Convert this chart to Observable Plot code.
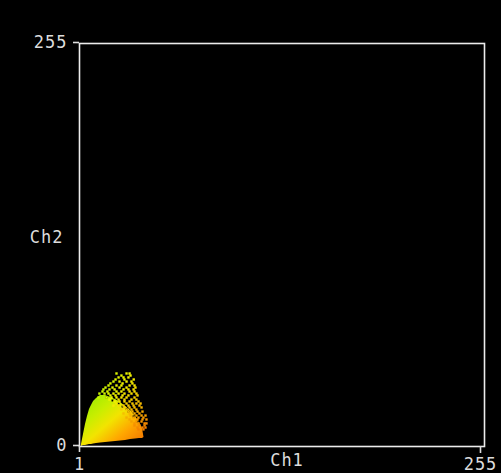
<!DOCTYPE html>
<html>
<head>
<meta charset="utf-8">
<script src="https://cdn.jsdelivr.net/npm/d3@7"></script>
<script src="https://cdn.jsdelivr.net/npm/@observablehq/plot@0.6"></script>
<style>
  html, body { margin: 0; padding: 0; background: #000; }
  svg { display: block; }
</style>
</head>
<body>
<div id="chart"></div>
<script>
// Axis ticks
const xTicks = [1, 255];
const yTicks = [0, 255];

// Dense core of the scatter: Ch1 positions with lower/upper Ch2 edges
const coreCh1   = [2.25, 3.5, 4.76, 6.0, 7.27, 8.5, 9.8, 11.66, 14.17, 17.3, 20.44, 23.6, 26.7, 29.85, 33.0, 36.1, 38.6, 40.5, 41.45];
const coreUpper = [1.27, 7.6, 13.9, 19.0, 23.4, 25.9, 28.5, 30.4, 32.3, 32.3, 31.0, 29.7, 27.8, 25.3, 22.8, 19.0, 15.2, 11.4, 5.7];
const coreLower = [0.0, 0.63, 0.63, 0.95, 1.27, 1.27, 1.58, 1.9, 2.2, 2.5, 2.85, 3.16, 3.5, 3.8, 4.4, 4.75, 5.1, 5.1, 5.7];

// Speckled outlying pixels, row by row: Ch2 level of each row and the Ch1 values in it
const speckleRowCh2 = [46.2, 44.9, 43.7, 42.4, 41.1, 39.9, 38.6, 37.3, 36.1, 34.8, 33.5, 32.3, 31.0, 29.7, 28.5,
                       27.2, 25.9, 24.7, 23.4, 22.1, 20.9, 19.6, 18.3, 17.1, 15.8, 14.6, 13.3, 12.0, 10.8];
const speckleRowCh1 = [
  [24.2, 30.5, 32.4],
  [27.3, 33.0],
  [25.5, 28.6, 31.7],
  [23.6, 29.2, 35.0],
  [22.3, 26.1, 30.5, 33.6],
  [20.4, 28.0, 34.2],
  [19.2, 24.2, 27.3, 32.4, 35.5],
  [17.3, 21.7, 26.1, 30.5, 36.1],
  [16.0, 19.8, 23.0, 28.6, 31.7, 34.9],
  [15.4, 18.5, 24.2, 27.3, 32.4, 35.5],
  [13.5, 16.7, 19.2, 22.3, 25.5, 29.2, 33.6, 36.7],
  [20.4, 23.6, 28.0, 31.7, 37.4],
  [12.9, 17.9, 21.1, 24.2, 27.3, 30.5, 35.5],
  [19.8, 25.5, 29.2, 33.6, 36.7],
  [23.0, 26.1, 29.2, 32.4, 38.0],
  [24.2, 30.5, 34.2, 36.7, 39.3],
  [22.3, 25.5, 28.6, 31.7, 34.9, 38.6],
  [29.2, 32.4, 35.5, 39.9],
  [27.3, 30.5, 33.6, 36.7],
  [31.7, 34.2, 37.4, 40.5],
  [28.6, 32.4, 35.5, 38.6],
  [33.0, 36.7, 39.9, 42.4],
  [30.5, 34.9, 38.0, 41.1],
  [32.4, 37.4, 40.5, 43.0],
  [33.6, 36.7, 39.9],
  [35.5, 38.0, 41.8, 43.0],
  [35.5, 38.6, 41.8],
  [37.4, 40.5, 42.4],
  [38.0, 41.1]
];

// Empty pixels (gaps) near the upper edge of the core (Ch1, Ch2)
const gapCh1 = [21.7, 28.0, 31.7, 34.9, 25.5, 37.4, 30.5, 17.9];
const gapCh2 = [29.1, 25.3, 22.1, 19.0, 27.2, 15.8, 23.7, 31.0];

const core = coreCh1.map((x, i) => ({x, y1: coreLower[i], y2: coreUpper[i]}));
const speckles = speckleRowCh2.flatMap((y, i) => speckleRowCh1[i].map(x => ({x, y})));
const gaps = gapCh1.map((x, i) => ({x, y: gapCh2[i]}));

// hue by Ch2/Ch1 angle: orange near Ch1 axis, yellow on diagonal, green near Ch2 axis
const angleColor = d => {
  const a = Math.atan2(d.y, d.x) * 180 / Math.PI;
  const h = 20 + a * 0.75;
  return d3.hsl(h, 1, 0.48).formatHex();
};

const font = "'DejaVu Sans Mono', monospace";
const txt = "#dcdcdc";

const svg = Plot.plot({
  width: 501,
  height: 473,
  marginLeft: 79,
  marginRight: 17,
  marginTop: 43,
  marginBottom: 27,
  style: {background: "#000", fontFamily: font, fontSize: "17px", letterSpacing: "1px"},
  color: {type: "identity"},
  x: {domain: [1, 255], axis: null},
  y: {domain: [0, 255], axis: null},
  marks: [
    Plot.areaY(core, {x: "x", y1: "y1", y2: "y2", fill: "url(#cloudGrad)", curve: "linear"}),
    Plot.dot(gaps, {x: "x", y: "y", symbol: "square", r: 1.1, fill: "#000"}),
    Plot.dot(speckles, {x: "x", y: "y", symbol: "square", r: 1.35, fill: angleColor}),
    Plot.frame({stroke: "#ececec", strokeWidth: 1.6}),
    Plot.axisY(yTicks, {tickSize: 6, tickPadding: 6, color: txt, strokeWidth: 1.6, label: null, fontSize: 17, dy: -1}),
    Plot.axisX([xTicks[0]], {tickSize: 6, tickPadding: 5, color: txt, strokeWidth: 1.6, label: null, fontSize: 17}),
    Plot.axisX([xTicks[1]], {tickSize: 7, tickPadding: 4, color: txt, strokeWidth: 1.6, label: null, fontSize: 17, dx: -4}),
    Plot.text(["Ch2"], {frameAnchor: "left", textAnchor: "end", dx: -16, dy: -7, fill: txt, fontSize: 17}),
    Plot.text(["Ch1"], {frameAnchor: "bottom", textAnchor: "middle", dx: 5, dy: 19, fill: txt, fontSize: 17})
  ]
});

const defs = d3.select(svg).insert("defs", ":first-child");
const grad = defs.append("linearGradient")
  .attr("id", "cloudGrad")
  .attr("x1", 0).attr("y1", 0.1).attr("x2", 0.95).attr("y2", 1);
[[0, "#96ec00"], [0.28, "#c8ee00"], [0.48, "#f2e400"], [0.72, "#ffa600"], [1, "#f07000"]]
  .forEach(([o, c]) => grad.append("stop").attr("offset", o).attr("stop-color", c));

document.getElementById("chart").append(svg);
</script>
</body>
</html>
